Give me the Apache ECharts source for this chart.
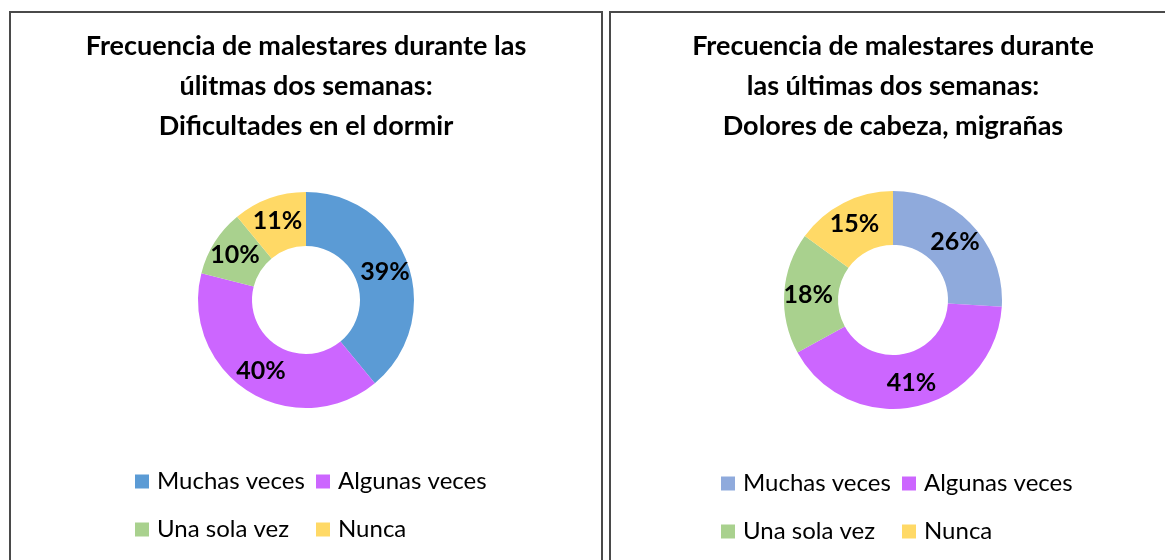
<!DOCTYPE html>
<html>
<head>
<meta charset="utf-8">
<script src="https://cdn.jsdelivr.net/npm/echarts@6/dist/echarts.min.js"></script>
<style>
  html, body { margin: 0; padding: 0; width: 1165px; height: 560px; overflow: hidden; background: #fff; }
  .panel { position: absolute; top: 11px; height: 580px; border: 2px solid #4a4a4a; box-sizing: border-box; }
  #dormir { left: 9px; width: 594px; }
  #cabeza { left: 609px; width: 568px; }
</style>
</head>
<body>
<div class="panel" id="dormir"></div>
<div class="panel" id="cabeza"></div>
<script>
// categorias de la leyenda
var categorias = ['Muchas veces', 'Algunas veces', 'Una sola vez', 'Nunca'];
// porcentajes de cada grafico
var valoresDormir = [39, 40, 10, 11];
var valoresCabeza = [26, 41, 18, 15];
// titulos
var tituloDormir = 'Frecuencia de malestares durante las\núlitmas dos semanas:\nDificultades en el dormir';
var tituloCabeza = 'Frecuencia de malestares durante\nlas últimas dos semanas:\nDolores de cabeza, migrañas';

var coloresDormir = ['#5b9bd5', '#cc66ff', '#a9d18e', '#ffd966'];
var coloresCabeza = ['#8faadc', '#cc66ff', '#a9d18e', '#ffd966'];

function opciones(titulo, valores, colores, radios, legendLeft, legendTop) {
    return {
        animation: false,
        title: {
            text: titulo,
            left: 'center',
            top: 8,
            textStyle: {
                fontFamily: 'Lato',
                fontWeight: 'bold',
                fontSize: 27,
                lineHeight: 40,
                color: '#000'
            }
        },
        legend: {
            left: legendLeft,
            top: legendTop,
            width: 360,
            itemWidth: 14,
            itemHeight: 14,
            itemGap: 9,
            icon: 'rect',
            selectedMode: false,
            textStyle: {
                fontFamily: 'Lato',
                fontSize: 24,
                color: '#000',
                width: 150,
                lineHeight: 39,
                padding: [0, 0, 0, 3]
            },
            data: categorias.map(function (c, i) {
                return { name: c, itemStyle: { color: colores[i] } };
            })
        },
        series: [{
            type: 'pie',
            center: ['50%', 287],
            radius: radios,
            startAngle: 90,
            clockwise: true,
            label: {
                show: true,
                position: 'inside',
                formatter: '{c}%',
                fontFamily: 'Lato',
                fontWeight: 'bold',
                fontSize: 25,
                color: '#000'
            },
            labelLine: { show: false },
            emphasis: { disabled: true },
            data: categorias.map(function (c, i) {
                return { name: c, value: valores[i], itemStyle: { color: colores[i] } };
            })
        }]
    };
}

var chartDormir = echarts.init(document.getElementById('dormir'));
chartDormir.setOption(opciones(tituloDormir, valoresDormir, coloresDormir, [54, 108], 119, 444));

var chartCabeza = echarts.init(document.getElementById('cabeza'));
chartCabeza.setOption(opciones(tituloCabeza, valoresCabeza, coloresCabeza, [55, 109], 105, 446));
</script>
</body>
</html>
